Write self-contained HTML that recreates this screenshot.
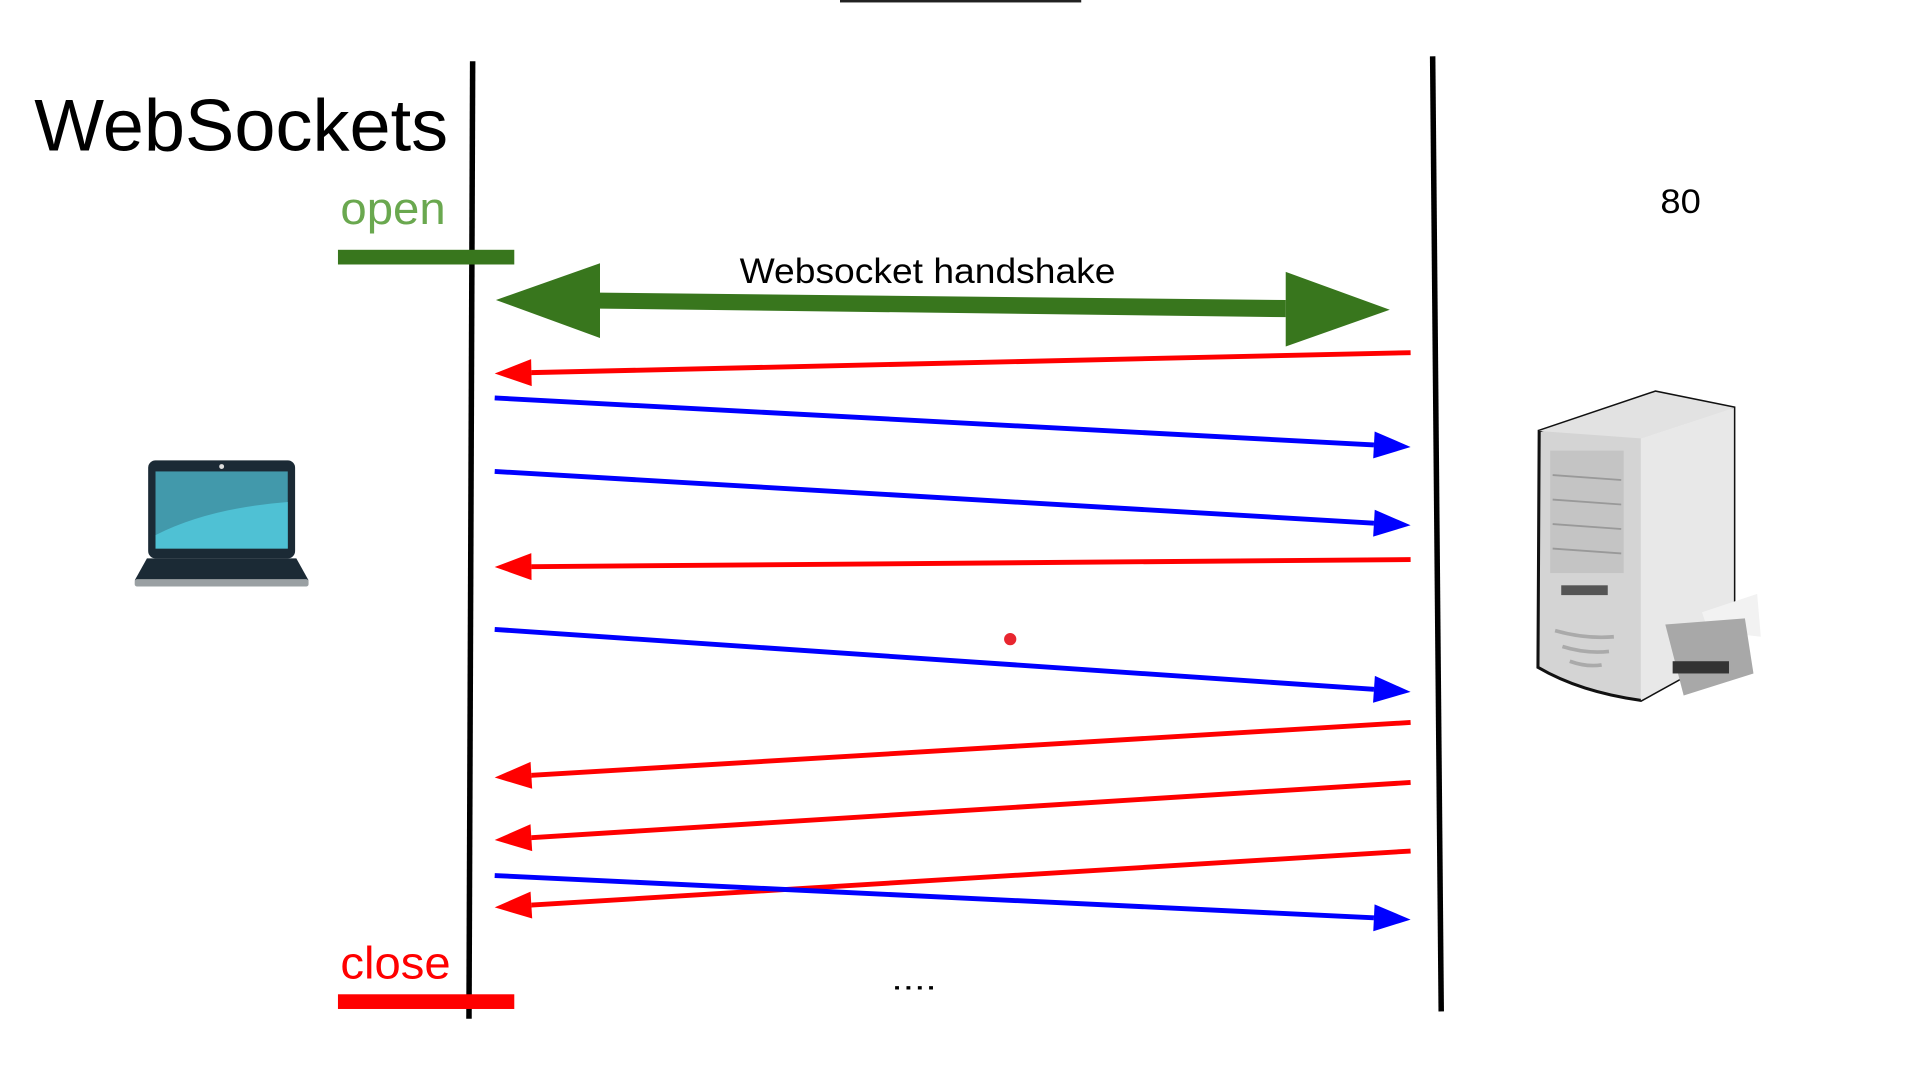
<!DOCTYPE html>
<html><head><meta charset="utf-8"><style>
html,body{margin:0;padding:0;background:#fff;width:1920px;height:1080px;overflow:hidden}
svg{display:block}
text{font-family:"Liberation Sans",sans-serif}
</style></head><body>
<svg id="chart" width="1920" height="1080" viewBox="0 0 1568 882" preserveAspectRatio="none">
<rect x="686" y="0" width="197" height="2" fill="#222"/>
<text x="28" y="123" font-size="60" textLength="338" lengthAdjust="spacingAndGlyphs" fill="#000">WebSockets</text>
<line x1="386" y1="50" x2="383" y2="832" stroke="#000" stroke-width="4.5"/>
<line x1="1170" y1="46" x2="1177" y2="826" stroke="#000" stroke-width="4.5"/>
<text x="278" y="183" font-size="37" textLength="86" lengthAdjust="spacingAndGlyphs" fill="#6aa84f">open</text>
<rect x="276" y="204" width="144" height="12" fill="#38761d"/>
<text x="278" y="799" font-size="37" textLength="90" lengthAdjust="spacingAndGlyphs" fill="#f00">close</text>
<rect x="276" y="812" width="144" height="12" fill="#f00"/>
<text x="1356" y="174" font-size="28" textLength="33" lengthAdjust="spacingAndGlyphs" fill="#000">80</text>
<text x="604" y="231" font-size="29" textLength="307" lengthAdjust="spacingAndGlyphs" fill="#000">Websocket handshake</text>
<g>
<polygon points="490,239 1050,245 1050,259 490,252" fill="#38761d"/>
<polygon points="405,245 490,215 490,276" fill="#38761d"/>
<polygon points="1135,253 1050,222 1050,283" fill="#38761d"/>
</g>
<text x="728" y="808" font-size="26" textLength="37" lengthAdjust="spacingAndGlyphs" fill="#000">....</text>
<circle cx="825" cy="522" r="5" fill="#e8262f"/>
<g id="msgs"></g>
<g>
<rect x="121" y="376" width="120" height="80" rx="6" fill="#1b2a35"/>
<rect x="127" y="385" width="108" height="63" fill="#4299ab"/>
<path d="M127 437 Q170 415 235 410 L235 448 L127 448Z" fill="#4fc1d4"/>
<circle cx="181" cy="381" r="2" fill="#ddd"/>
<polygon points="120,456 242,456 252,474 110,474" fill="#1b2a35"/>
<rect x="110" y="473" width="142" height="6" rx="2" fill="#9aa0a3"/>
</g>
<g>
<path d="M1257 352 L1352 320 L1416 333 L1416 530 L1340 572 Q1290 565 1256 545Z" fill="#d4d4d4" stroke="#111" stroke-width="2.5"/>
<path d="M1257 352 L1352 320 L1416 333 L1340 358Z" fill="#e2e2e2"/>
<path d="M1340 358 L1416 333 L1416 530 L1340 572Z" fill="#e8e8e8"/>
<rect x="1266" y="368" width="60" height="100" fill="#c4c4c4"/>
<path d="M1268 388 L1324 392 M1268 408 L1324 412 M1268 428 L1324 432 M1268 448 L1324 452" stroke="#999" stroke-width="1.5"/>
<rect x="1275" y="478" width="38" height="8" fill="#555"/>
<path d="M1270 515 Q1295 522 1318 520 M1276 528 Q1295 534 1314 532 M1282 540 Q1296 545 1308 543" stroke="#aaa" stroke-width="3" fill="none"/>
<polygon points="1390,500 1435,485 1438,520 1395,515" fill="#f2f2f2"/>
<polygon points="1360,510 1425,505 1432,550 1375,568" fill="#a8a8a8"/>
<rect x="1366" y="540" width="46" height="10" fill="#333"/>
</g>
</svg>
<script>
// messages: direction (1 = client->server, -1 = server->client), y at client lifeline, y at server lifeline
const msgDir = [-1, 1, 1, -1, 1, -1, -1, -1, 1];
const yClient = [305, 325, 385, 463, 514, 635, 686, 741, 715];
const yServer = [288, 365, 429, 457, 565, 590, 639, 695, 751];
const xClient = 404, xServer = 1152;
const ns = "http://www.w3.org/2000/svg";
const g = document.getElementById('msgs');
msgDir.forEach((d, i) => {
  const color = d > 0 ? '#0000ff' : '#ff0000';
  const x1 = d > 0 ? xClient : xServer, y1 = d > 0 ? yClient[i] : yServer[i];
  const x2 = d > 0 ? xServer : xClient, y2 = d > 0 ? yServer[i] : yClient[i];
  const grp = document.createElementNS(ns, 'g');
  
  
  const ang = Math.atan2(y2 - y1, x2 - x1);
  const L = 30, W = 11;
  const bx = x2 - L * Math.cos(ang), by = y2 - L * Math.sin(ang);
  const ln = document.createElementNS(ns, 'line');
  ln.setAttribute('x1', x1); ln.setAttribute('y1', y1);
  ln.setAttribute('x2', bx); ln.setAttribute('y2', by);
  ln.setAttribute('stroke', color); ln.setAttribute('stroke-width', 4);
  
  
  const hd = document.createElementNS(ns, 'polygon');
  const px = -Math.sin(ang) * W, py = Math.cos(ang) * W;
  hd.setAttribute('points', `${x2},${y2} ${bx + px},${by + py} ${bx - px},${by - py}`);
  hd.setAttribute('fill', color);
  
  
  grp.appendChild(ln); grp.appendChild(hd);
  g.appendChild(grp);
});
</script>
</body></html>
